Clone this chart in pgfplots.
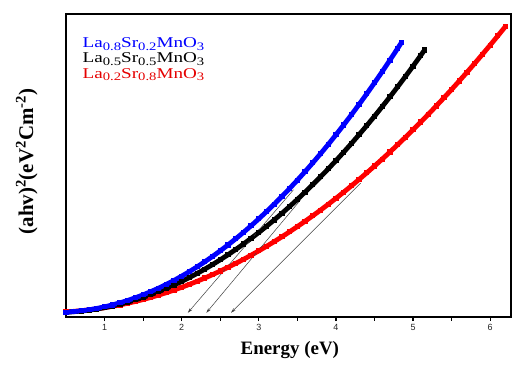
\documentclass[border=0pt]{standalone}
\usepackage{pgfplots}
\pgfplotsset{compat=1.18}
\usepackage{fontspec}
\setmainfont{Liberation Serif}
\newfontfamily\arialf{Liberation Sans}
\usetikzlibrary{calc,arrows.meta}
\newcommand{\sbs}[1]{\raisebox{-2.6bp}{\fontsize{11.5}{12}\selectfont #1}}

\pgfplotstableread{
E y
0.5 1.60
0.6 1.78
0.7 2.04
0.8 2.39
0.9 2.83
1.0 3.36
1.1 3.98
1.2 4.68
1.3 5.47
1.4 6.35
1.5 7.32
1.6 8.38
1.7 9.52
1.8 10.75
1.9 12.07
2.0 13.48
2.1 14.98
2.2 16.56
2.3 18.23
2.4 19.99
2.5 21.84
2.6 23.78
2.7 25.80
2.8 27.91
2.9 30.11
3.0 32.40
3.1 34.78
3.2 37.24
3.3 39.79
3.4 42.43
3.5 45.16
3.6 47.98
3.7 50.88
3.8 53.87
3.9 56.95
4.0 60.12
4.1 63.38
4.2 66.72
4.3 70.15
4.4 73.67
4.5 77.28
4.6 80.98
4.7 84.76
4.8 88.63
4.85 90.60
}\blue

\pgfplotstableread{
E y
0.5 1.58
0.6 1.74
0.7 1.96
0.8 2.26
0.9 2.64
1.0 3.09
1.1 3.62
1.2 4.22
1.3 4.89
1.4 5.65
1.5 6.47
1.6 7.38
1.7 8.35
1.8 9.41
1.9 10.53
2.0 11.74
2.1 13.02
2.2 14.37
2.3 15.80
2.4 17.30
2.5 18.88
2.6 20.54
2.7 22.26
2.8 24.07
2.9 25.95
3.0 27.90
3.1 29.94
3.2 32.04
3.3 34.22
3.4 36.48
3.5 38.81
3.6 41.22
3.7 43.70
3.8 46.25
3.9 48.89
4.0 51.59
4.1 54.38
4.2 57.23
4.3 60.17
4.4 63.17
4.5 66.26
4.6 69.42
4.7 72.65
4.8 75.96
4.9 79.34
5.0 82.80
5.1 86.34
5.15 88.13
}\black

\pgfplotstableread{
E y
0.5 1.69
0.6 1.86
0.7 2.09
0.8 2.36
0.9 2.69
1.0 3.07
1.1 3.51
1.2 3.99
1.3 4.53
1.4 5.13
1.5 5.77
1.6 6.47
1.7 7.23
1.8 8.03
1.9 8.89
2.0 9.80
2.1 10.77
2.2 11.78
2.3 12.86
2.4 13.98
2.5 15.16
2.6 16.39
2.7 17.67
2.8 19.00
2.9 20.39
3.0 21.83
3.1 23.33
3.2 24.88
3.3 26.48
3.4 28.13
3.5 29.84
3.6 31.60
3.7 33.41
3.8 35.27
3.9 37.19
4.0 39.16
4.1 41.19
4.2 43.27
4.3 45.40
4.4 47.58
4.5 49.82
4.6 52.11
4.7 54.45
4.8 56.85
4.9 59.29
5.0 61.80
5.1 64.35
5.2 66.96
5.3 69.62
5.4 72.33
5.5 75.10
5.6 77.92
5.7 80.79
5.8 83.72
5.9 86.70
6.0 89.73
6.1 92.81
6.2 95.95
}\red

\begin{document}
\begin{tikzpicture}
\begin{axis}[
  scale only axis,
  width=445bp, height=303bp,
  xmin=0.5, xmax=6.27,
  ymin=0, ymax=100,
  xtick={1,2,3,4,5,6},
  minor x tick num=1,
  ytick=\empty,
  xtick pos=bottom,
  tick align=outside,
  major tick length=4bp,
  minor tick length=3.5bp,
  axis line style={line width=1.6bp},
  every tick/.style={black, line width=1.2bp},
  tick label style={font=\arialf\fontsize{9}{10}\selectfont, text=black!85},
  /pgf/number format/assume math mode=true,
  xlabel={\bfseries Energy (eV)},
  xlabel style={font=\fontsize{19}{22}\selectfont, at={(axis description cs:0.503,-0.109)}, anchor=center},
  ylabel={\bfseries (ahv)\textsuperscript{2}(eV\textsuperscript{2}Cm\textsuperscript{-2})},
  ylabel style={font=\fontsize{21}{24}\selectfont, at={(axis description cs:-0.088,0.513)}, anchor=center},
]
\addplot[red, line width=4.8bp, line join=round, mark=square*, mark size=2.1bp, mark options={solid, line width=0pt}] table[x=E,y=y] {\red};
\addplot[black, line width=4.8bp, line join=round, mark=square*, mark size=2.1bp, mark options={solid, line width=0pt}] table[x=E,y=y] {\black};
\addplot[blue, line width=4.8bp, line join=round, mark=square*, mark size=2.1bp, mark options={solid, line width=0pt}] table[x=E,y=y] {\blue};

\addplot[black!75, line width=0.5bp, -{Stealth[length=5bp,width=3bp]}] coordinates {(3.45,42.0) (2.08,1.4)};
\addplot[black!75, line width=0.5bp, -{Stealth[length=5bp,width=3bp]}] coordinates {(3.54,38.6) (2.32,1.4)};
\addplot[black!75, line width=0.5bp, -{Stealth[length=5bp,width=3bp]}] coordinates {(4.32,44.2) (2.64,1.4)};

\node[anchor=base west, text=blue, font=\fontsize{15}{16}\selectfont, inner sep=0pt] at (rel axis cs:0.037,0.889) {\scalebox{1.28}[1]{La\sbs{0.8}Sr\sbs{0.2}MnO\sbs{3}}};
\node[anchor=base west, text=black, font=\fontsize{15}{16}\selectfont, inner sep=0pt] at (rel axis cs:0.037,0.839) {\scalebox{1.28}[1]{La\sbs{0.5}Sr\sbs{0.5}MnO\sbs{3}}};
\node[anchor=base west, text=red!90!black, font=\fontsize{15}{16}\selectfont, inner sep=0pt] at (rel axis cs:0.037,0.788) {\scalebox{1.28}[1]{La\sbs{0.2}Sr\sbs{0.8}MnO\sbs{3}}};
\end{axis}
\pgfresetboundingbox
\path ($(current axis.south west)+(-66bp,-50bp)$) rectangle ($(current axis.north east)+(2bp,14bp)$);
\end{tikzpicture}
\end{document}
